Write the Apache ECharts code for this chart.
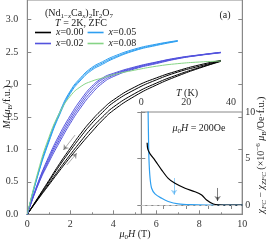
<!DOCTYPE html>
<html><head><meta charset="utf-8">
<script src="https://cdn.jsdelivr.net/npm/echarts@6/dist/echarts.min.js"></script>
<style>html,body{margin:0;padding:0;background:#fff}#c{width:269px;height:241px}</style>
</head><body><div id="c"></div>
<script>
// ---- Main panel: M vs mu0H (T), several loop branches per composition ----
const H_9 = [0,0.5,1,1.5,2,2.5,3,3.5,4,5,6,7,8,9];
const H_7 = [0,0.5,1,1.5,2,2.5,3,3.5,4,5,6,7];

const M_x000_1 = [0,0.26,0.52,0.78,1.02,1.25,1.45,1.62,1.76,1.96,2.10,2.21,2.30,2.37];
const M_x000_2 = [0,0.25,0.50,0.75,0.98,1.20,1.40,1.57,1.72,1.92,2.07,2.19,2.28,2.365];
const M_x000_3 = [0,0.24,0.47,0.70,0.92,1.13,1.33,1.50,1.65,1.86,2.02,2.15,2.26,2.36];
const M_x000_4 = [0,0.23,0.45,0.67,0.88,1.08,1.27,1.45,1.60,1.82,1.99,2.13,2.25,2.355];

const M_x002_1 = [0,0.49,0.89,1.23,1.52,1.77,1.97,2.10,2.17,2.27,2.345,2.41,2.455,2.495];
const M_x002_2 = [0,0.48,0.86,1.19,1.48,1.73,1.94,2.08,2.155,2.26,2.34,2.405,2.452,2.493];
const M_x002_3 = [0,0.46,0.83,1.15,1.44,1.69,1.90,2.05,2.14,2.25,2.33,2.40,2.45,2.49];
const M_x002_4 = [0,0.45,0.80,1.11,1.40,1.65,1.86,2.02,2.12,2.24,2.32,2.395,2.447,2.487];

const M_x005_1 = [0,0.63,1.15,1.57,1.90,2.11,2.26,2.35,2.43,2.545,2.62,2.675];
const M_x005_2 = [0,0.62,1.13,1.55,1.88,2.09,2.24,2.33,2.41,2.53,2.61,2.67];
const M_x005_3 = [0,0.61,1.11,1.53,1.86,2.07,2.22,2.31,2.395,2.52,2.60,2.665];

const M_x008_1 = [0,0.66,1.18,1.56,1.82,1.97,2.05,2.10,2.15,2.22,2.28,2.32,2.345,2.36];

// sweep-direction arrows [H, M]
const ARROW_DOWN = [[2.22,1.22],[1.68,0.99]];
const ARROW_UP = [[1.84,0.76],[2.30,0.94]];

// ---- Inset: chi_FC - chi_ZFC vs T (K) ----
const T_x000 = [2.6,2.9,3.9,6.1,9.1,12,15,19.5,23.9,26.9,29.1,32.1,34.3,40,45];
const CHI_x000 = [6.7,6.0,5.5,4.8,3.76,2.87,2.33,1.8,1.43,1.08,0.54,0.11,0.02,0,0];
const T_x005 = [3.0,3.2,3.4,3.9,4.6,6.1,9.1,12,16.5,22,30,45];
const CHI_x005 = [10.5,7.5,5.0,2.9,1.8,1.2,0.72,0.38,0.12,0.03,0,0];
const ARROW_T_x005 = [[14.6,2.9],[14.6,1.1]];
const ARROW_T_x000 = [[34.0,1.83],[34.0,0.43]];

const Y_TICKS = [0,0.5,1,1.5,2,2.5,3];
const T_TICKS = [0,20,40];
const CHI_TICKS = [0,5,10];

const C_BLACK = '#000000', C_BLUE = '#2e9ff0', C_PURPLE = '#5353dd', C_GREEN = '#86d486';
const SERIF = '"Liberation Serif","DejaVu Serif",serif';
const AX = '#888';

function zip(xs, ys){ return xs.map((x,i)=>[x, ys[i]]); }
function loop(name, xs, ys, color){
  return {type:'line', name, xAxisIndex:0, yAxisIndex:0, data: zip(xs, ys), smooth:true, showSymbol:false, symbol:'none',
    lineStyle:{color, width:1}, itemStyle:{color}, silent:true, animation:false};
}
const rich = {
  i:{fontStyle:'italic', fontFamily:SERIF, fontSize:10, color:'#222'},
  n:{fontFamily:SERIF, fontSize:10, color:'#222'},
  sub:{fontFamily:SERIF, fontSize:7, color:'#222', padding:[6,0,0,0]},
  subi:{fontFamily:SERIF, fontStyle:'italic', fontSize:7, color:'#222', padding:[6,0,0,0]},
  sup:{fontFamily:SERIF, fontSize:7, color:'#222', padding:[0,0,6,0]}
};
function txt(x, y, text, opts){
  opts = opts || {};
  return {type:'text', x, y, rotation: opts.rot || 0, z:10,
    style:{text, fontFamily:SERIF, fontSize: opts.fs || 10, fill:'#222', align:'center', verticalAlign:'middle', rich}};
}

const series = [
  loop('x=0.00', H_9, M_x000_1, C_BLACK), loop('x=0.00', H_9, M_x000_2, C_BLACK),
  loop('x=0.00', H_9, M_x000_3, C_BLACK), loop('x=0.00', H_9, M_x000_4, C_BLACK),
  loop('x=0.05', H_7, M_x005_1, C_BLUE), loop('x=0.05', H_7, M_x005_2, C_BLUE), loop('x=0.05', H_7, M_x005_3, C_BLUE),
  loop('x=0.02', H_9, M_x002_1, C_PURPLE), loop('x=0.02', H_9, M_x002_2, C_PURPLE),
  loop('x=0.02', H_9, M_x002_3, C_PURPLE), loop('x=0.02', H_9, M_x002_4, C_PURPLE),
  loop('x=0.08', H_9, M_x008_1, C_GREEN),
  {type:'lines', coordinateSystem:'cartesian2d', xAxisIndex:0, yAxisIndex:0, silent:true, animation:false,
    symbol:['none','arrow'], symbolSize:5,
    lineStyle:{color:'#333', width:0.8},
    data:[{coords:ARROW_DOWN},{coords:ARROW_UP}]},
  {type:'line', xAxisIndex:1, yAxisIndex:2, data: zip(T_x000, CHI_x000), smooth:0.3, showSymbol:false, symbol:'none',
    lineStyle:{color:C_BLACK, width:1.2}, silent:true, animation:false, z:3,
    markLine:{silent:true, symbol:'none', label:{show:false}, animation:false,
      lineStyle:{color:'#c8c8c8', type:'dashed', width:1}, data:[{yAxis:0}]}},
  {type:'line', xAxisIndex:1, yAxisIndex:2, data: zip(T_x005, CHI_x005), smooth:0.3, showSymbol:false, symbol:'none',
    lineStyle:{color:C_BLUE, width:1.2}, silent:true, animation:false, z:2},
  {type:'lines', coordinateSystem:'cartesian2d', xAxisIndex:1, yAxisIndex:2, silent:true, animation:false,
    symbol:['none','arrow'], symbolSize:5,
    data:[{coords:ARROW_T_x005, lineStyle:{color:C_BLUE, width:1}},{coords:ARROW_T_x000, lineStyle:{color:C_BLACK, width:1}}]}
];

const legendText = {fontFamily:SERIF, fontSize:10, color:'#222', rich:{i:{fontStyle:'italic', fontFamily:SERIF, fontSize:10, color:'#222'}, n:{fontFamily:SERIF, fontSize:10, color:'#222'}}};
const legendFmt = n => '{i|x}{n|' + n.slice(1) + '}';
const legendBase = {left:35, padding:0, icon:'rect', itemWidth:16, itemHeight:1.6, itemGap:4,
  formatter:legendFmt, textStyle:legendText, selectedMode:false};

const chart = echarts.init(document.getElementById('c'), null, {renderer:'canvas'});
chart.setOption({
  animation:false,
  backgroundColor:'#fff',
  grid:[
    {left:27.3, right:26.7, top:0, bottom:26.7, show:true, borderColor:AX, borderWidth:1},
    {left:141.3, right:26.7, top:112, bottom:26.7, show:true, borderColor:AX, borderWidth:1}
  ],
  legend:[
    Object.assign({data:['x=0.00','x=0.05'], top:27.5}, legendBase),
    Object.assign({data:['x=0.02','x=0.08'], top:38.5}, legendBase)
  ],
  xAxis:[
    {type:'value', gridIndex:0, min:0, max:10, interval:2, position:'bottom',
      axisLine:{lineStyle:{color:AX}}, axisTick:{inside:true, length:4, lineStyle:{color:AX}},
      minorTick:{show:true, splitNumber:2, length:2, lineStyle:{color:AX}},
      axisLabel:{margin:5, fontFamily:SERIF, fontSize:10, color:'#333'}, splitLine:{show:false}},
    {type:'value', gridIndex:1, min:0, max:45, interval:10, position:'top',
      axisLine:{lineStyle:{color:AX}}, axisTick:{inside:true, length:4, lineStyle:{color:AX}},
      axisLabel:{margin:5, fontFamily:SERIF, fontSize:10, color:'#333', customValues:T_TICKS}, splitLine:{show:false}}
  ],
  yAxis:[
    {type:'value', gridIndex:0, min:0, max:3.3, interval:0.5, position:'left',
      axisLine:{lineStyle:{color:AX}}, axisTick:{inside:true, length:4, lineStyle:{color:AX}, customValues:Y_TICKS},
      axisLabel:{margin:9, fontFamily:SERIF, fontSize:10, color:'#333', customValues:Y_TICKS, formatter:v=>v.toFixed(1)}, splitLine:{show:false}},
    {type:'value', gridIndex:0, min:0, max:3.3, interval:0.5, position:'right',
      axisLine:{lineStyle:{color:AX}}, axisTick:{inside:true, length:4, lineStyle:{color:AX}, customValues:Y_TICKS},
      axisLabel:{show:false}, splitLine:{show:false}},
    {type:'value', gridIndex:1, min:-1, max:10, position:'right',
      axisLine:{lineStyle:{color:AX}}, axisTick:{inside:true, length:4, lineStyle:{color:AX}, customValues:CHI_TICKS},
      axisLabel:{margin:3, fontFamily:SERIF, fontSize:10, color:'#333', customValues:CHI_TICKS}, splitLine:{show:false}},
    {type:'value', gridIndex:1, min:-1, max:10, position:'left',
      axisLine:{lineStyle:{color:AX}}, axisTick:{inside:true, length:4, lineStyle:{color:AX}, customValues:CHI_TICKS},
      axisLabel:{show:false}, splitLine:{show:false}}
  ],
  series,
  graphic:[
    txt(79, 13, '{n|(Nd}{sub|1−}{subi|x}{n|Ca}{subi|x}{n|)}{sub|2}{n|Ir}{sub|2}{n|O}{sub|7}'),
    txt(81, 23.5, '{i|T}{n| = 2K, ZFC}'),
    txt(225, 15, '{n|(a)}'),
    txt(7, 107, '{i|M}{n| (}{i|μ}{sub|B}{n|/f.u.)}', {rot:Math.PI/2}),
    txt(135, 234, '{i|μ}{sub|0}{i|H}{n| (T)}'),
    txt(187, 93, '{i|T}{n| (K)}'),
    txt(199, 128, '{i|μ}{sub|0}{i|H}{n| = 200Oe}'),
    txt(261, 155, '{i|χ}{subi|FC}{n| − }{i|χ}{subi|ZFC}{n| (×10}{sup|−6}{n| }{i|μ}{sub|B}{n|/Oe·f.u.)}', {rot:Math.PI/2})
  ]
});
</script></body></html>
